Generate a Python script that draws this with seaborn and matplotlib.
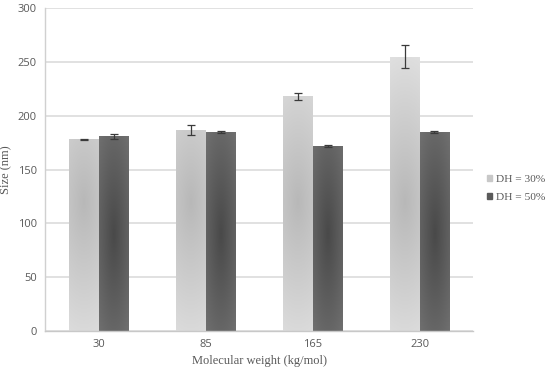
import numpy as np
import pandas as pd
import matplotlib.pyplot as plt
import matplotlib.colors as mcolors
import seaborn as sns
from matplotlib.patches import Rectangle

# data
weights = ['30', '85', '165', '230']
size_dh30 = [178, 187, 218, 255]
err_dh30 = [0.8, 4.5, 3.0, 10.5]
size_dh50 = [181, 185, 172, 185]
err_dh50 = [2.5, 1.0, 1.2, 1.2]
series = ['DH = 30%', 'DH = 50%']

df = pd.DataFrame({
    'weight': weights * 2,
    'size': size_dh30 + size_dh50,
    'err': err_dh30 + err_dh50,
    'series': [series[0]] * 4 + [series[1]] * 4,
})

sns.set_theme(style="white")
plt.rcParams['font.family'] = ['Liberation Serif', 'DejaVu Serif']

fig = plt.figure(figsize=(5.5, 3.72), dpi=100)
ax = fig.add_axes([0.082, 0.110, 0.778, 0.868])

sns.barplot(data=df, x='weight', y='size', hue='series', order=weights,
            hue_order=series, palette=['#cdcdcd', '#666666'],
            width=0.56, gap=0.02, errorbar=None, ax=ax, legend=False, zorder=2)

# radial-ish gradient fills, clipped to each bar
bars = [p for p in ax.patches if isinstance(p, Rectangle)]
grad = [('#b8b8b8', '#e2e2e2', 120, 0.08), ('#494949', '#7a7a7a', 90, 0.25)]
ny, nx = 200, 40
for i, bar in enumerate(bars):
    c0, c1, yc, kx = grad[i // len(weights)]
    x0, w = bar.get_x(), bar.get_width()
    h = bar.get_height()
    yy = np.linspace(0, h, ny)[:, None]
    xx = np.linspace(-1, 1, nx)[None, :]
    d = np.sqrt(kx * xx ** 2 + ((yy - yc) / 150) ** 2)
    d = np.clip(d, 0, 1)
    a = np.array(mcolors.to_rgb(c0))
    b = np.array(mcolors.to_rgb(c1))
    img = a + (b - a) * d[..., None]
    im = ax.imshow(img, extent=(x0, x0 + w, 0, h), origin='lower',
                   aspect='auto', zorder=2.5, interpolation='bilinear')
    im.set_clip_path(bar)
    bar.set_edgecolor('none')

# error bars
for i, bar in enumerate(bars):
    s = i // len(weights)
    k = i % len(weights)
    val = [size_dh30, size_dh50][s][k]
    e = [err_dh30, err_dh50][s][k]
    ax.errorbar(bar.get_x() + bar.get_width() / 2, val, yerr=e, fmt='none',
                ecolor='#3a3a3a', elinewidth=0.9, capsize=3, capthick=0.9, zorder=4)

ax.set_xlim(-0.5, 3.5)
ax.set_ylim(0, 300)
ax.set_yticks(range(0, 301, 50))
ax.yaxis.grid(True, color='#dcdcdc', linewidth=1.2, zorder=0)
ax.set_axisbelow(True)
for sp in ['top', 'right']:
    ax.spines[sp].set_visible(False)
ax.spines['left'].set_color('#d0d0d0')
ax.spines['bottom'].set_color('#c8c8c8')
ax.spines['left'].set_linewidth(1.0)
ax.spines['bottom'].set_linewidth(1.0)
ax.tick_params(axis='both', length=0, labelcolor='#595959', pad=6)
for lab in ax.get_xticklabels() + ax.get_yticklabels():
    lab.set_family(['Open Sans', 'DejaVu Sans'])
    lab.set_fontsize(8)

ax.set_xlabel('Molecular weight (kg/mol)', fontsize=9, color='#595959', labelpad=3)
ax.set_ylabel('Size (nm)', fontsize=9, color='#595959')
ax.yaxis.set_label_coords(-0.077, 0.5)

handles = [Rectangle((0, 0), 1, 1, color=c) for c in ['#c8c8c8', '#5a5a5a']]
fig.legend(handles, series, loc='center left', bbox_to_anchor=(0.886, 0.493),
           frameon=False, fontsize=8.2, labelcolor='#595959', handlelength=0.45,
           handleheight=0.45, handletextpad=0.35, labelspacing=0.8,
           borderpad=0, borderaxespad=0)

fig.savefig('out.png', dpi=100, facecolor='white')
